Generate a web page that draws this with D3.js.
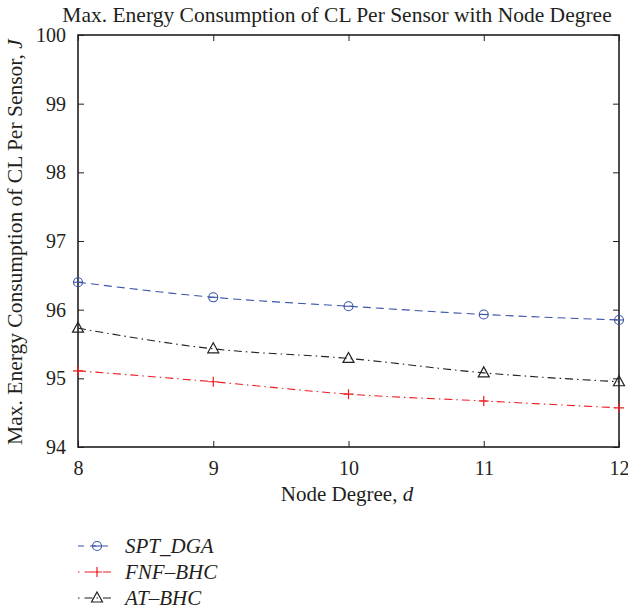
<!DOCTYPE html>
<html><head><meta charset="utf-8">
<script src="https://cdn.jsdelivr.net/npm/d3@7"></script>
<style>body{margin:0;background:#fff}svg{display:block}text{font-family:"Liberation Serif","Times New Roman",serif;fill:#231f20}</style>
</head><body><svg id="c" width="628" height="610"></svg>
<script>
// Node degree values and per-scheme max energy consumption (J)
const degrees = [8, 9, 10, 11, 12];
const sptDga = [96.40, 96.18, 96.05, 95.93, 95.85];
const fnfBhc = [95.11, 94.95, 94.77, 94.67, 94.57];
const atBhc  = [95.73, 95.43, 95.29, 95.08, 94.95];
const xTicks = [8, 9, 10, 11, 12];
const yTicks = [94, 95, 96, 97, 98, 99, 100];

const series = [
  {name: "SPT_DGA", values: sptDga, color: "#3a54a8", dash: "8,5", marker: "circle"},
  {name: "FNF\u2013BHC", values: fnfBhc, color: "#ee1c24", dash: "8,4,1.5,4", marker: "plus"},
  {name: "AT\u2013BHC", values: atBhc, color: "#231f20", dash: "8,4,1.5,4", marker: "triangle"}
];

const svg = d3.select("#c");
const L = 78, R = 619, T = 35, B = 447;
const x = d3.scaleLinear().domain([8, 12]).range([L, R]);
const y = d3.scaleLinear().domain([94, 100]).range([B, T]);
const axisColor = "#231f20";

// axes with inward ticks on all four sides
function styleAxis(g) {
  g.select(".domain").remove();
  g.selectAll("line").attr("stroke", axisColor).attr("stroke-width", 1);
  g.selectAll("text").style("font-size", "20px").attr("fill", axisColor);
}
svg.append("g").attr("transform", `translate(0,${B})`)
  .call(d3.axisBottom(x).tickValues(xTicks).tickSizeInner(-6).tickSizeOuter(0).tickPadding(14).tickFormat(d3.format("d")))
  .call(styleAxis);
svg.append("g").attr("transform", `translate(${L},0)`)
  .call(d3.axisLeft(y).tickValues(yTicks).tickSizeInner(-6).tickSizeOuter(0).tickPadding(12).tickFormat(d3.format("d")))
  .call(styleAxis);
svg.append("g").attr("transform", `translate(0,${T})`)
  .call(d3.axisTop(x).tickValues(xTicks).tickSizeInner(-6).tickSizeOuter(0).tickFormat(""))
  .call(styleAxis);
svg.append("g").attr("transform", `translate(${R},0)`)
  .call(d3.axisRight(y).tickValues(yTicks).tickSizeInner(-6).tickSizeOuter(0).tickFormat(""))
  .call(styleAxis);

svg.append("rect").attr("x", L).attr("y", T).attr("width", R - L).attr("height", B - T)
  .attr("fill", "none").attr("stroke", axisColor).attr("stroke-width", 1.6);

function drawMarker(g, kind, cx, cy, color) {
  if (kind === "circle") {
    g.append("circle").attr("cx", cx).attr("cy", cy).attr("r", 4.5)
      .attr("fill", "none").attr("stroke", color).attr("stroke-width", 1.1);
    g.append("line").attr("x1", cx - 4.5).attr("x2", cx + 4.5).attr("y1", cy).attr("y2", cy)
      .attr("stroke", color).attr("stroke-width", 1.1);
  } else if (kind === "plus") {
    g.append("path").attr("d", `M${cx - 5},${cy}H${cx + 5}M${cx},${cy - 5}V${cy + 5}`)
      .attr("stroke", color).attr("stroke-width", 1.2);
  } else {
    g.append("path").attr("d", `M${cx},${cy - 6}L${cx + 5.5},${cy + 4}L${cx - 5.5},${cy + 4}Z`)
      .attr("fill", "none").attr("stroke", color).attr("stroke-width", 1.2);
  }
}

const line = d3.line().x((d, i) => x(degrees[i])).y(d => y(d)).curve(d3.curveMonotoneX);
series.forEach(s => {
  const g = svg.append("g");
  g.append("path").attr("d", line(s.values)).attr("fill", "none")
    .attr("stroke", s.color).attr("stroke-width", 1.1).attr("stroke-dasharray", s.dash);
  s.values.forEach((v, i) => drawMarker(g, s.marker, x(degrees[i]), y(v), s.color));
});

// titles
svg.append("text").attr("x", 337).attr("y", 22).attr("text-anchor", "middle")
  .style("font-size", "21.5px").text("Max. Energy Consumption of CL Per Sensor with Node Degree");
const xl = svg.append("text").attr("x", 347).attr("y", 501).attr("text-anchor", "middle").style("font-size", "21px");
xl.append("tspan").text("Node Degree, ");
xl.append("tspan").style("font-style", "italic").text("d");
const yl = svg.append("text").attr("transform", `translate(22,${(T + B) / 2 + 1}) rotate(-90)`)
  .attr("text-anchor", "middle").style("font-size", "21.5px");
yl.append("tspan").text("Max. Energy Consumption of CL Per Sensor, ");
yl.append("tspan").style("font-style", "italic").text("J");

// legend
series.forEach((s, i) => {
  const ly = 546 + i * 26;
  const g = svg.append("g");
  g.append("line").attr("x1", 78).attr("x2", 114).attr("y1", ly).attr("y2", ly)
    .attr("stroke", s.color).attr("stroke-width", 1.1).attr("stroke-dasharray", s.dash === "8,5" ? "6,6" : "1.5,5,8,4");
  drawMarker(g, s.marker, 97, ly, s.color);
  g.append("text").attr("x", 125).attr("y", ly + 7).style("font-size", "21px").style("font-style", "italic").text(s.name);
});
</script></body></html>
